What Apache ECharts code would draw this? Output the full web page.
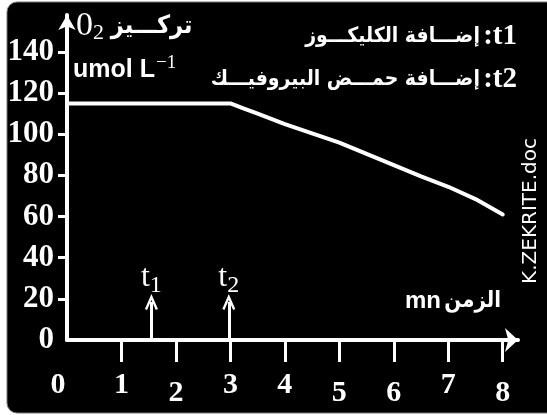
<!DOCTYPE html>
<html>
<head>
<meta charset="utf-8">
<script src="https://cdn.jsdelivr.net/npm/echarts@6/dist/echarts.min.js"></script>
<style>
html,body{margin:0;padding:0;background:#fff;}
#c{width:547px;height:415px;}
</style>
</head>
<body>
<div id="c"></div>
<script>
// ---- data ----
const timeMin = [0, 1, 2, 3, 3.25, 3.5, 4, 4.5, 5, 5.5, 6, 6.5, 7, 7.5, 8];
const o2Conc  = [115, 115, 115, 115, 112.5, 110, 105, 100.5, 96, 90.5, 85, 79.5, 74.5, 68.5, 61];
const xTickLabels = [0, 1, 2, 3, 4, 5, 6, 7, 8];
const yTickLabels = [0, 20, 40, 60, 80, 100, 120, 140];
const eventTimes = [1.55, 2.97];
const eventNames = ['1', '2'];
const yTitleArabic = 'تركـــيز';
const yUnit = 'umol L';
const notesLabel = ['t1', 't2'];
const notesText = ['إضـــافة الكليكـــوز', 'إضـــافة حمـــض البيروفيـــك'];
const xTitleUnit = 'mn';
const xTitleArabic = 'الزمن';
const watermark = 'K.ZEKRITE.doc';

const SERIF = '"Liberation Serif", "Times New Roman", serif';
const SANS = '"Liberation Sans", Arial, sans-serif';
const AR = '"DejaVu Sans Condensed", "DejaVu Sans", sans-serif';

const chart = echarts.init(document.getElementById('c'), null, {renderer: 'canvas'});

const lineData = timeMin.map((t, i) => [t, o2Conc[i]]);
const arrowHead = 'path://M6,0 L12,15 L10,16 L6,6 L2,16 L0,15 Z';

chart.setOption({
  backgroundColor: '#ffffff',
  animation: false,
  grid: {left: 67, right: 29, top: 15, bottom: 75, containLabel: false},
  xAxis: {
    type: 'value', min: 0, max: 8.28,
    splitLine: {show: false},
    axisLine: {show: true, onZero: false, symbol: ['none', 'arrow'], symbolSize: [18, 13],
      lineStyle: {color: '#fff', width: 4}},
    axisTick: {show: true, customValues: xTickLabels.filter(v => v > 0), length: 22,
      lineStyle: {color: '#fff', width: 3}},
    axisLabel: {
      customValues: xTickLabels, margin: 30, color: '#fff',
      fontFamily: SERIF, fontWeight: 'bold', fontSize: 30,
      formatter: function (v) {
        if (v === 0) return '{z|0}';
        return ([2, 5, 6, 8].indexOf(v) >= 0) ? '{d|' + v + '}' : '{u|' + v + '}';
      },
      rich: {z: {padding: [0, 18, 0, 0]}, d: {padding: [8, 0, 0, 0]}, u: {}}
    }
  },
  yAxis: {
    type: 'value', min: 0, max: 158,
    splitLine: {show: false},
    axisLine: {show: true, onZero: false, symbol: ['none', 'arrow'], symbolSize: [13, 15],
      lineStyle: {color: '#fff', width: 4}},
    axisTick: {show: true, customValues: yTickLabels.filter(v => v > 0), length: 9,
      lineStyle: {color: '#fff', width: 3}},
    axisLabel: {customValues: yTickLabels, margin: 13, color: '#fff',
      fontFamily: SERIF, fontWeight: 'bold', fontSize: 31}
  },
  series: [{
    type: 'line',
    data: lineData,
    smooth: false,
    showSymbol: false,
    symbol: 'none',
    lineStyle: {color: '#fff', width: 4, cap: 'round', join: 'round'},
    z: 3,
    markLine: {
      silent: true,
      symbol: ['none', arrowHead],
      symbolSize: [13, 16],
      lineStyle: {color: '#fff', width: 3, type: 'solid'},
      label: {
        show: true, position: 'end', distance: 4, color: '#fff',
        formatter: function (p) { return '{t|t}{s|' + p.name + '}'; },
        rich: {
          t: {fontFamily: SERIF, fontSize: 32, color: '#fff'},
          s: {fontFamily: SERIF, fontSize: 24, color: '#fff', padding: [16, 0, 0, 0]}
        }
      },
      data: eventTimes.map((t, i) => [
        {name: eventNames[i], coord: [t, 0]},
        {coord: [t, 18.5]}
      ])
    }
  }],
  graphic: [
    {type: 'rect', z: -10, silent: true,
      shape: {x: 7, y: 2, width: 550, height: 411, r: 10},
      style: {fill: '#000', stroke: '#777', lineWidth: 1}},
    {type: 'text', x: 76, y: 26, silent: true,
      style: {
        text: '{o|0}{s|2}  {a|' + yTitleArabic + '}',
        verticalAlign: 'middle', align: 'left', fill: '#fff',
        rich: {
          o: {fontFamily: SERIF, fontSize: 34, fill: '#fff'},
          s: {fontFamily: SERIF, fontSize: 22, fill: '#fff', padding: [14, 0, 0, 0]},
          a: {fontFamily: AR, fontWeight: 'bold', fontSize: 25, fill: '#fff'}
        }
      }},
    {type: 'text', x: 73, y: 70, silent: true,
      style: {
        text: '{u|' + yUnit + '}{e|−1}',
        verticalAlign: 'middle', align: 'left', fill: '#fff',
        rich: {
          u: {fontFamily: SANS, fontWeight: 'bold', fontSize: 25, fill: '#fff'},
          e: {fontFamily: SERIF, fontSize: 19, fill: '#fff', padding: [0, 0, 14, 1]}
        }
      }},
    {type: 'text', x: 517, y: 37, silent: true,
      style: {
        text: '{a|' + notesText[0] + '} {t|:' + notesLabel[0] + '}',
        verticalAlign: 'middle', align: 'right', fill: '#fff',
        rich: {
          a: {fontFamily: AR, fontWeight: 'bold', fontSize: 21, fill: '#fff'},
          t: {fontFamily: SERIF, fontWeight: 'bold', fontSize: 29, fill: '#fff'}
        }
      }},
    {type: 'text', x: 517, y: 80, silent: true,
      style: {
        text: '{a|' + notesText[1] + '} {t|:' + notesLabel[1] + '}',
        verticalAlign: 'middle', align: 'right', fill: '#fff',
        rich: {
          a: {fontFamily: AR, fontWeight: 'bold', fontSize: 21, fill: '#fff'},
          t: {fontFamily: SERIF, fontWeight: 'bold', fontSize: 29, fill: '#fff'}
        }
      }},
    {type: 'text', x: 405, y: 301, silent: true,
      style: {
        text: '{u|' + xTitleUnit + '} {a|' + xTitleArabic + '}',
        verticalAlign: 'middle', align: 'left', fill: '#fff',
        rich: {
          u: {fontFamily: SANS, fontWeight: 'bold', fontSize: 24, fill: '#fff'},
          a: {fontFamily: AR, fontWeight: 'bold', fontSize: 22, fill: '#fff'}
        }
      }},
    {type: 'text', x: 531, y: 211, rotation: Math.PI / 2, silent: true,
      style: {
        text: watermark, align: 'center', verticalAlign: 'middle',
        fontFamily: '"DejaVu Sans", sans-serif', fontSize: 20, fill: '#fff'
      }}
  ]
});
</script>
</body>
</html>
